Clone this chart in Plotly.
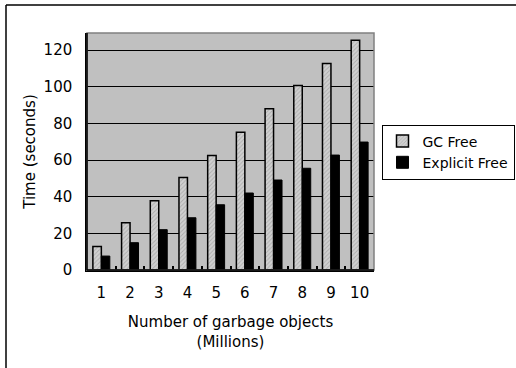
import plotly.graph_objects as go

categories = ["1", "2", "3", "4", "5", "6", "7", "8", "9", "10"]
gc_free = [12.8, 25.8, 37.8, 50.4, 62.5, 75.1, 88.0, 100.7, 112.7, 125.3]
explicit_free = [7.6, 14.9, 22.0, 28.5, 35.6, 42.0, 49.1, 55.5, 62.7, 69.8]
y_ticks = [0, 20, 40, 60, 80, 100, 120]

FONT = "DejaVu Sans"
FS = 15

fig = go.Figure()
fig.add_trace(go.Bar(
    x=categories, y=gc_free, name="GC Free",
    marker=dict(color="#c8c8c8", line=dict(color="black", width=1.5),
                pattern=dict(shape="/", fgcolor="#8a8a8a", bgcolor="#d0d0d0", size=3, solidity=0.3)),
))
fig.add_trace(go.Bar(
    x=categories, y=explicit_free, name="Explicit Free",
    marker=dict(color="black", line=dict(color="black", width=1)),
))

L, R, T, B = 87, 142, 33, 98
W, H = 516, 368
pw, ph = W - L - R, H - T - B


def px(x):
    return (x - L) / pw


def py(y):
    return (H - B - y) / ph


fig.update_layout(
    width=W, height=H,
    margin=dict(l=L, r=R, t=T, b=B, pad=0, autoexpand=False),
    paper_bgcolor="white", plot_bgcolor="#c0c0c0",
    barmode="group", bargap=0.41, bargroupgap=0,
    font=dict(family=FONT, size=FS, color="black"),
    showlegend=True,
    legend=dict(x=px(448), y=py(152), xanchor="center", yanchor="middle",
                bgcolor="white", bordercolor="black", borderwidth=1,
                font=dict(family=FONT, size=14), tracegroupgap=0,
                itemwidth=30),
    xaxis=dict(type="category", tickson="boundaries", ticks="inside", ticklen=4,
               tickcolor="black", tickwidth=1.5, showline=True, linecolor="black", linewidth=1.5,
               showgrid=False, tickangle=0, automargin=False, ticklabelstandoff=8,
               title=dict(text="Number of garbage objects<br>(Millions)", standoff=16,
                          font=dict(family=FONT, size=FS)),
               tickfont=dict(family=FONT, size=FS)),
    yaxis=dict(range=[0, 129.3], tickvals=y_ticks, showgrid=True, gridcolor="black", gridwidth=1,
               showline=True, linecolor="black", linewidth=1.5, ticks="", zeroline=False,
               ticklabelstandoff=10, automargin=False,
               title=dict(text="Time (seconds)", standoff=4, font=dict(family=FONT, size=FS)),
               tickfont=dict(family=FONT, size=FS)),
)

# gray plot-area frame (top/right)
fig.add_shape(type="rect", xref="paper", yref="paper", x0=0, x1=1, y0=0, y1=1,
              line=dict(color="#808080", width=1.5), layer="above")
# black left/bottom axis lines above the frame
fig.add_shape(type="line", xref="paper", yref="paper", x0=0, x1=0, y0=0, y1=1,
              line=dict(color="black", width=1.5), layer="above")
fig.add_shape(type="line", xref="paper", yref="paper", x0=0, x1=1, y0=0, y1=0,
              line=dict(color="black", width=1.5), layer="above")
# outer chart border (left and top edges visible)
fig.add_shape(type="line", xref="paper", yref="paper",
              x0=px(6), x1=px(6), y0=py(H + 2), y1=py(5),
              line=dict(color="black", width=1.5), layer="above")
fig.add_shape(type="line", xref="paper", yref="paper",
              x0=px(6), x1=px(W + 2), y0=py(5), y1=py(5),
              line=dict(color="black", width=1.5), layer="above")

fig.write_html("out.html", config={"displayModeBar": False},
               post_script="document.body.style.margin='0';document.body.style.overflow='hidden';")
